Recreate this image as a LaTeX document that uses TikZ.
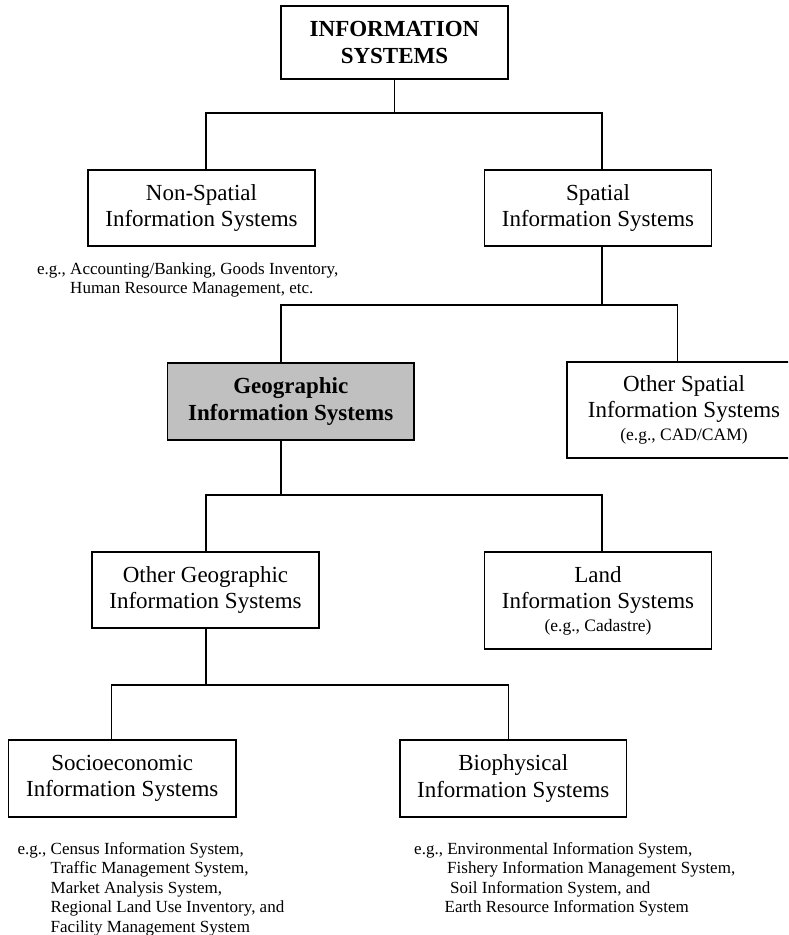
\documentclass[tikz,border=0pt]{standalone}
\usepackage{fontspec}
\setmainfont{Liberation Serif}
\begin{document}
\begin{tikzpicture}[x=1pt,y=-1pt,
  box/.style={draw=black, line width=1.8pt, fill=white, align=center, inner sep=0pt,
    font=\fontsize{23}{26.5}\selectfont},
  gbox/.style={box, fill=boxgray, font=\fontsize{23}{26.5}\selectfont\bfseries},
  conn/.style={line width=1.7pt, draw=black},
  extext/.style={anchor=base west, inner sep=0pt, font=\fontsize{17}{19.5}\selectfont}]
\definecolor{boxgray}{RGB}{192,192,192}
\clip (0,0) rectangle (788,935);
\fill[white] (0,0) rectangle (788,935);

% boxes
\node[box, minimum width=227pt, minimum height=73pt, font=\fontsize{23}{26.5}\selectfont\bfseries]
  (top) at (394.5,42.5) {INFORMATION\\SYSTEMS};
\node[box, minimum width=227pt, minimum height=76pt] (nonsp) at (201.5,208) {Non-Spatial\\Information Systems};
\node[box, minimum width=227pt, minimum height=76pt] (spat) at (598,208) {Spatial\\Information Systems};
\node[gbox, minimum width=246.5pt, minimum height=77pt] (gis) at (290.75,401.5) {Geographic\\Information Systems};
\node[box, minimum width=234pt, minimum height=96pt] (osp) at (684,410)
  {Other Spatial\\Information Systems\\[-3.5pt]{\fontsize{17.5}{20}\selectfont (e.g., CAD/CAM)}};
\node[box, minimum width=227pt, minimum height=76pt] (ogeo) at (205.5,590) {Other Geographic\\Information Systems};
\node[box, minimum width=227pt, minimum height=97pt] (land) at (598,600.5)
  {Land\\Information Systems\\[-4pt]{\fontsize{17.5}{20}\selectfont (e.g., Cadastre)}};
\node[box, minimum width=227.5pt, minimum height=77pt] (socio) at (122.25,778.5) {Socioeconomic\\Information Systems};
\node[box, minimum width=226.5pt, minimum height=77pt] (bio) at (513.25,778.5) {Biophysical\\Information Systems};

% example texts
\node[extext] (nonspex) at (37,274) {\begin{tabular}[t]{@{}l@{}l@{}}e.g.,\kern0.25em & Accounting/Banking, Goods Inventory,\\ & Human Resource Management, etc.\end{tabular}};
\node[extext] (socioex) at (17.5,854) {\begin{tabular}[t]{@{}l@{}l@{}}e.g.,\kern0.25em & Census Information System,\\
 & Traffic Management System,\\
 & Market Analysis System,\\
 & Regional Land Use Inventory, and\\
 & Facility Management System\end{tabular}};
\node[extext] (bioex) at (414,854) {\begin{tabular}[t]{@{}l@{}l@{}}e.g.,\kern0.25em & Environmental Information System,\\
 & Fishery Information Management System,\\
 & \hspace{3pt}Soil Information System, and\\
 & \hspace{-2.5pt}Earth Resource Information System\end{tabular}};

% junctions
\coordinate (j1) at (394.5,113);
\coordinate (j2) at (602,305);
\coordinate (j3) at (281,495);
\coordinate (j4) at (206,685);

% connectors
\draw[conn] (top.south) -- (j1) -| (nonsp.north -| 206,0);
\draw[conn] (j1) -| (spat.north -| 602,0);
\draw[conn] (spat.south -| j2) -- (j2) -| (gis.north -| j3);
\draw[conn] (j2) -| (osp.north -| 677.5,0);
\draw[conn] (gis.south -| j3) -- (j3) -| (ogeo.north -| j4);
\draw[conn] (j3) -| (land.north -| 602,0);
\draw[conn] (ogeo.south -| j4) -- (j4) -| (socio.north -| 111.5,0);
\draw[conn] (j4) -| (bio.north -| 508.5,0);
\end{tikzpicture}
\end{document}
